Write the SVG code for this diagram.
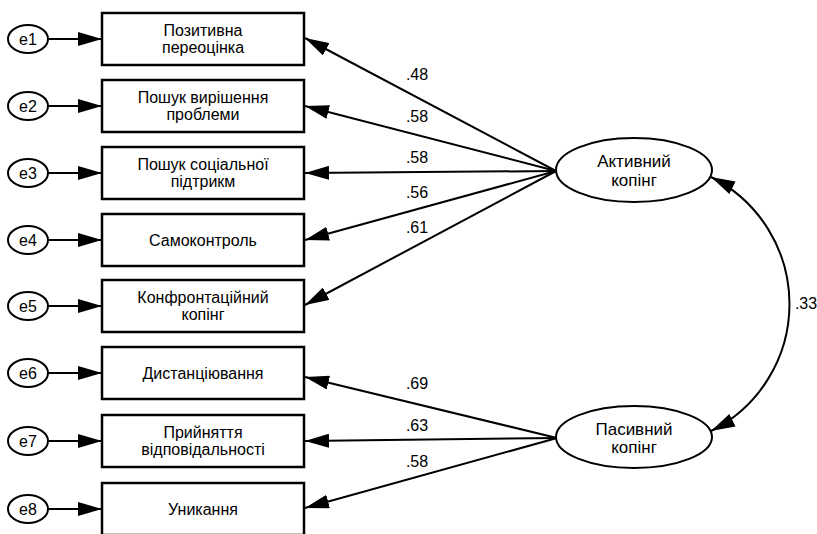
<svg xmlns="http://www.w3.org/2000/svg" width="817" height="534" viewBox="0 0 817 534">
<style>
  text { font-family: "Liberation Sans", Arial, sans-serif; fill: #000; }
  .bt { font-size: 16px; text-anchor: middle; }
  .et { font-size: 16px; text-anchor: middle; }
  .lt { font-size: 17px; text-anchor: middle; }
  .lab { font-size: 16px; text-anchor: middle; }
  .box { fill: #fff; stroke: #000; stroke-width: 2.5; }
  .err { fill: #fff; stroke: #000; stroke-width: 2; }
  .lat { fill: #fff; stroke: #000; stroke-width: 2; }
  .ln { fill: none; stroke: #000; stroke-width: 2; marker-end: url(#ah); }
</style>
<defs>
  <marker id="ah" markerUnits="userSpaceOnUse" markerWidth="26" markerHeight="14" refX="24" refY="7" orient="auto">
    <path d="M0,0 L24,7 L0,14 z" fill="#000"/>
  </marker>
  <marker id="ah2" markerUnits="userSpaceOnUse" markerWidth="26" markerHeight="14" refX="24" refY="7" orient="auto-start-reverse">
    <path d="M0,0 L24,7 L0,14 z" fill="#000"/>
  </marker>
</defs>
<rect width="817" height="534" fill="#fff"/>

<g id="connectors">
  <line class="ln" x1="48" y1="39" x2="102" y2="39"/>
  <line class="ln" x1="48" y1="106" x2="102" y2="106"/>
  <line class="ln" x1="48" y1="173" x2="102" y2="173"/>
  <line class="ln" x1="48" y1="240" x2="102" y2="240"/>
  <line class="ln" x1="48" y1="306" x2="102" y2="306"/>
  <line class="ln" x1="48" y1="373" x2="102" y2="373"/>
  <line class="ln" x1="48" y1="441" x2="102" y2="441"/>
  <line class="ln" x1="48" y1="509" x2="102" y2="509"/>

  <line class="ln" x1="556" y1="171" x2="305" y2="38"/>
  <line class="ln" x1="556" y1="171" x2="305" y2="106"/>
  <line class="ln" x1="556" y1="171" x2="305" y2="173"/>
  <line class="ln" x1="556" y1="171" x2="305" y2="240"/>
  <line class="ln" x1="556" y1="171" x2="305" y2="305"/>

  <line class="ln" x1="557" y1="438" x2="305" y2="377"/>
  <line class="ln" x1="557" y1="438" x2="305" y2="441"/>
  <line class="ln" x1="557" y1="438" x2="305" y2="508"/>

  <path d="M711,177 A142,142 0 0 1 711,431" fill="none" stroke="#000" stroke-width="2" marker-start="url(#ah2)" marker-end="url(#ah2)"/>

  <text class="lab" x="417" y="80">.48</text>
  <text class="lab" x="417" y="122">.58</text>
  <text class="lab" x="417" y="163">.58</text>
  <text class="lab" x="417" y="198">.56</text>
  <text class="lab" x="417" y="233">.61</text>
  <text class="lab" x="417" y="389">.69</text>
  <text class="lab" x="417" y="431">.63</text>
  <text class="lab" x="417" y="467">.58</text>
  <text class="lab" x="806" y="309">.33</text>
</g>

<g id="e1"><ellipse class="err" cx="28" cy="39" rx="20" ry="14"/><text class="et" x="28" y="45">e1</text></g>
<g id="e2"><ellipse class="err" cx="28" cy="106" rx="20" ry="14"/><text class="et" x="28" y="112">e2</text></g>
<g id="e3"><ellipse class="err" cx="28" cy="173" rx="20" ry="14"/><text class="et" x="28" y="179">e3</text></g>
<g id="e4"><ellipse class="err" cx="28" cy="240" rx="20" ry="14"/><text class="et" x="28" y="246">e4</text></g>
<g id="e5"><ellipse class="err" cx="28" cy="306" rx="20" ry="14"/><text class="et" x="28" y="312">e5</text></g>
<g id="e6"><ellipse class="err" cx="28" cy="373" rx="20" ry="14"/><text class="et" x="28" y="379">e6</text></g>
<g id="e7"><ellipse class="err" cx="28" cy="441" rx="20" ry="14"/><text class="et" x="28" y="447">e7</text></g>
<g id="e8"><ellipse class="err" cx="28" cy="509" rx="20" ry="14"/><text class="et" x="28" y="515">e8</text></g>

<g id="v1"><rect class="box" x="102" y="13" width="202" height="52"/><text class="bt" x="203" y="36">Позитивна</text><text class="bt" x="203" y="53">переоцінка</text></g>
<g id="v2"><rect class="box" x="102" y="80" width="202" height="52"/><text class="bt" x="203" y="103">Пошук вирішення</text><text class="bt" x="203" y="120">проблеми</text></g>
<g id="v3"><rect class="box" x="102" y="147" width="202" height="52"/><text class="bt" x="203" y="170">Пошук соціальної</text><text class="bt" x="203" y="187">підтрикм</text></g>
<g id="v4"><rect class="box" x="102" y="214" width="202" height="52"/><text class="bt" x="203" y="246">Самоконтроль</text></g>
<g id="v5"><rect class="box" x="102" y="280" width="202" height="52"/><text class="bt" x="203" y="303">Конфронтаційний</text><text class="bt" x="203" y="320">копінг</text></g>
<g id="v6"><rect class="box" x="102" y="347" width="202" height="52"/><text class="bt" x="203" y="379">Дистанціювання</text></g>
<g id="v7"><rect class="box" x="102" y="415" width="202" height="52"/><text class="bt" x="203" y="438">Прийняття</text><text class="bt" x="203" y="455">відповідальності</text></g>
<g id="v8"><rect class="box" x="102" y="483" width="202" height="52"/><text class="bt" x="203" y="515">Уникання</text></g>

<g id="active"><ellipse class="lat" cx="634" cy="170" rx="78" ry="32"/><text class="lt" x="634" y="167">Активний</text><text class="lt" x="634" y="186">копінг</text></g>
<g id="passive"><ellipse class="lat" cx="634" cy="437" rx="78" ry="31"/><text class="lt" x="634" y="435">Пасивний</text><text class="lt" x="634" y="453">копінг</text></g>
</svg>
